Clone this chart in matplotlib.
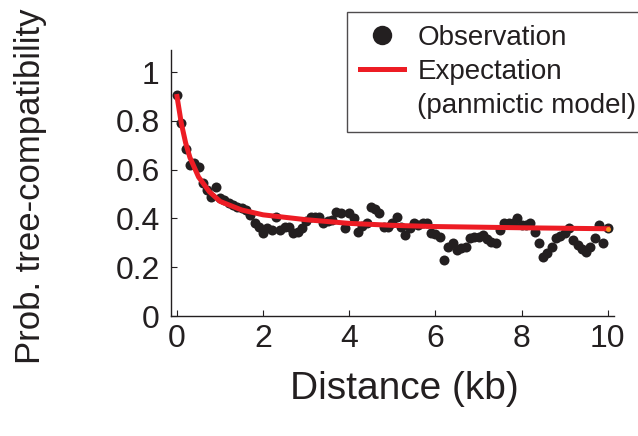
import matplotlib.pyplot as plt
from matplotlib.lines import Line2D
import numpy as np

plt.rcParams['font.family'] = ['Liberation Sans', 'DejaVu Sans']

# observed probability of tree-compatibility vs distance (kb)
obs_x = [round(0.1 * i, 1) for i in range(101)]
obs_y = [0.905, 0.79, 0.686, 0.62, 0.627, 0.61, 0.545, 0.517, 0.49, 0.531,
         0.483, 0.476, 0.463, 0.455, 0.449, 0.442, 0.435, 0.415, 0.38, 0.367,
         0.34, 0.36, 0.353, 0.408, 0.353, 0.367, 0.367, 0.34, 0.346, 0.36,
         0.39, 0.408, 0.408, 0.408, 0.38, 0.39, 0.394, 0.428, 0.421, 0.36,
         0.421, 0.40, 0.346, 0.37, 0.38, 0.449, 0.44, 0.421, 0.367, 0.367,
         0.38, 0.408, 0.367, 0.333, 0.36, 0.38, 0.375, 0.38, 0.38, 0.34,
         0.335, 0.326, 0.23, 0.285, 0.299, 0.271, 0.28, 0.285, 0.319, 0.325,
         0.326, 0.333, 0.315, 0.305, 0.299, 0.353, 0.38, 0.38, 0.38, 0.401,
         0.374, 0.375, 0.38, 0.346, 0.299, 0.244, 0.258, 0.285, 0.319, 0.33,
         0.34, 0.36, 0.312, 0.29, 0.275, 0.264, 0.285, 0.319, 0.374, 0.299,
         0.36]

# expectation under panmictic model
exp_x = [0, 0.1, 0.2, 0.3, 0.5, 0.75, 1, 1.5, 2, 3, 4, 5, 6, 8, 10]
exp_y = [0.90, 0.79, 0.71, 0.65, 0.57, 0.51, 0.47, 0.435, 0.415, 0.395,
         0.38, 0.372, 0.367, 0.362, 0.358]

DARK = '#231f20'
RED = '#ed1c24'

fig = plt.figure(figsize=(6.38, 4.36), dpi=100)
ax = fig.add_axes([0.268, 0.275, 0.694, 0.61])

ax.plot(obs_x, obs_y, 'o', color=DARK, markersize=7.2, markeredgewidth=0,
        zorder=2)
ax.plot(exp_x, exp_y, '-', color=RED, linewidth=3.6, zorder=3)
ax.plot(exp_x[-1], exp_y[-1], 'o', color='#f7941d', markersize=3.5,
        markeredgewidth=0, zorder=4)

ax.set_xlim(-0.14, 10.14)
ax.set_ylim(0, 1.09)
ax.set_xticks([0, 2, 4, 6, 8, 10])
ax.set_yticks([0, 0.2, 0.4, 0.6, 0.8, 1])
ax.set_yticklabels(['0', '0.2', '0.4', '0.6', '0.8', '1'])

for s in ['top', 'right']:
    ax.spines[s].set_visible(False)
for s in ['left', 'bottom']:
    ax.spines[s].set_color(DARK)
    ax.spines[s].set_linewidth(1.0)
ax.tick_params(direction='in', length=4, width=0.8, colors=DARK,
               labelsize=23)
ax.tick_params(axis='x', pad=5.5)
ax.tick_params(axis='y', pad=8)

ax.set_xlabel('Distance (kb)', fontsize=28, color=DARK)
ax.xaxis.set_label_coords(0.528, -0.205)
ax.set_ylabel('Prob. tree-compatibility', fontsize=25, color=DARK)
ax.yaxis.set_label_coords(-0.28, 0.49)

# legend: line handle sits on the first line of the two-line label
handles = [
    Line2D([], [], linestyle='none', marker='o', color=DARK, markersize=14,
           markeredgewidth=0),
    Line2D([], [], color=RED, linewidth=3.6),
    Line2D([], [], linestyle='none', marker=None, color='none'),
]
labels = ['Observation', 'Expectation', '(panmictic model)']
leg = ax.legend(handles, labels, loc='upper right',
                bbox_to_anchor=(649 / 638, 1 - 12 / 436),
                bbox_transform=fig.transFigure, fontsize=20, frameon=True,
                fancybox=False, edgecolor=DARK,
                handlelength=1.6, handletextpad=0.47, borderpad=0.45,
                labelspacing=0.3, borderaxespad=0)
leg.get_frame().set_linewidth(1.0)
for t in leg.get_texts():
    t.set_color(DARK)

fig.savefig('out.png', dpi=100)
